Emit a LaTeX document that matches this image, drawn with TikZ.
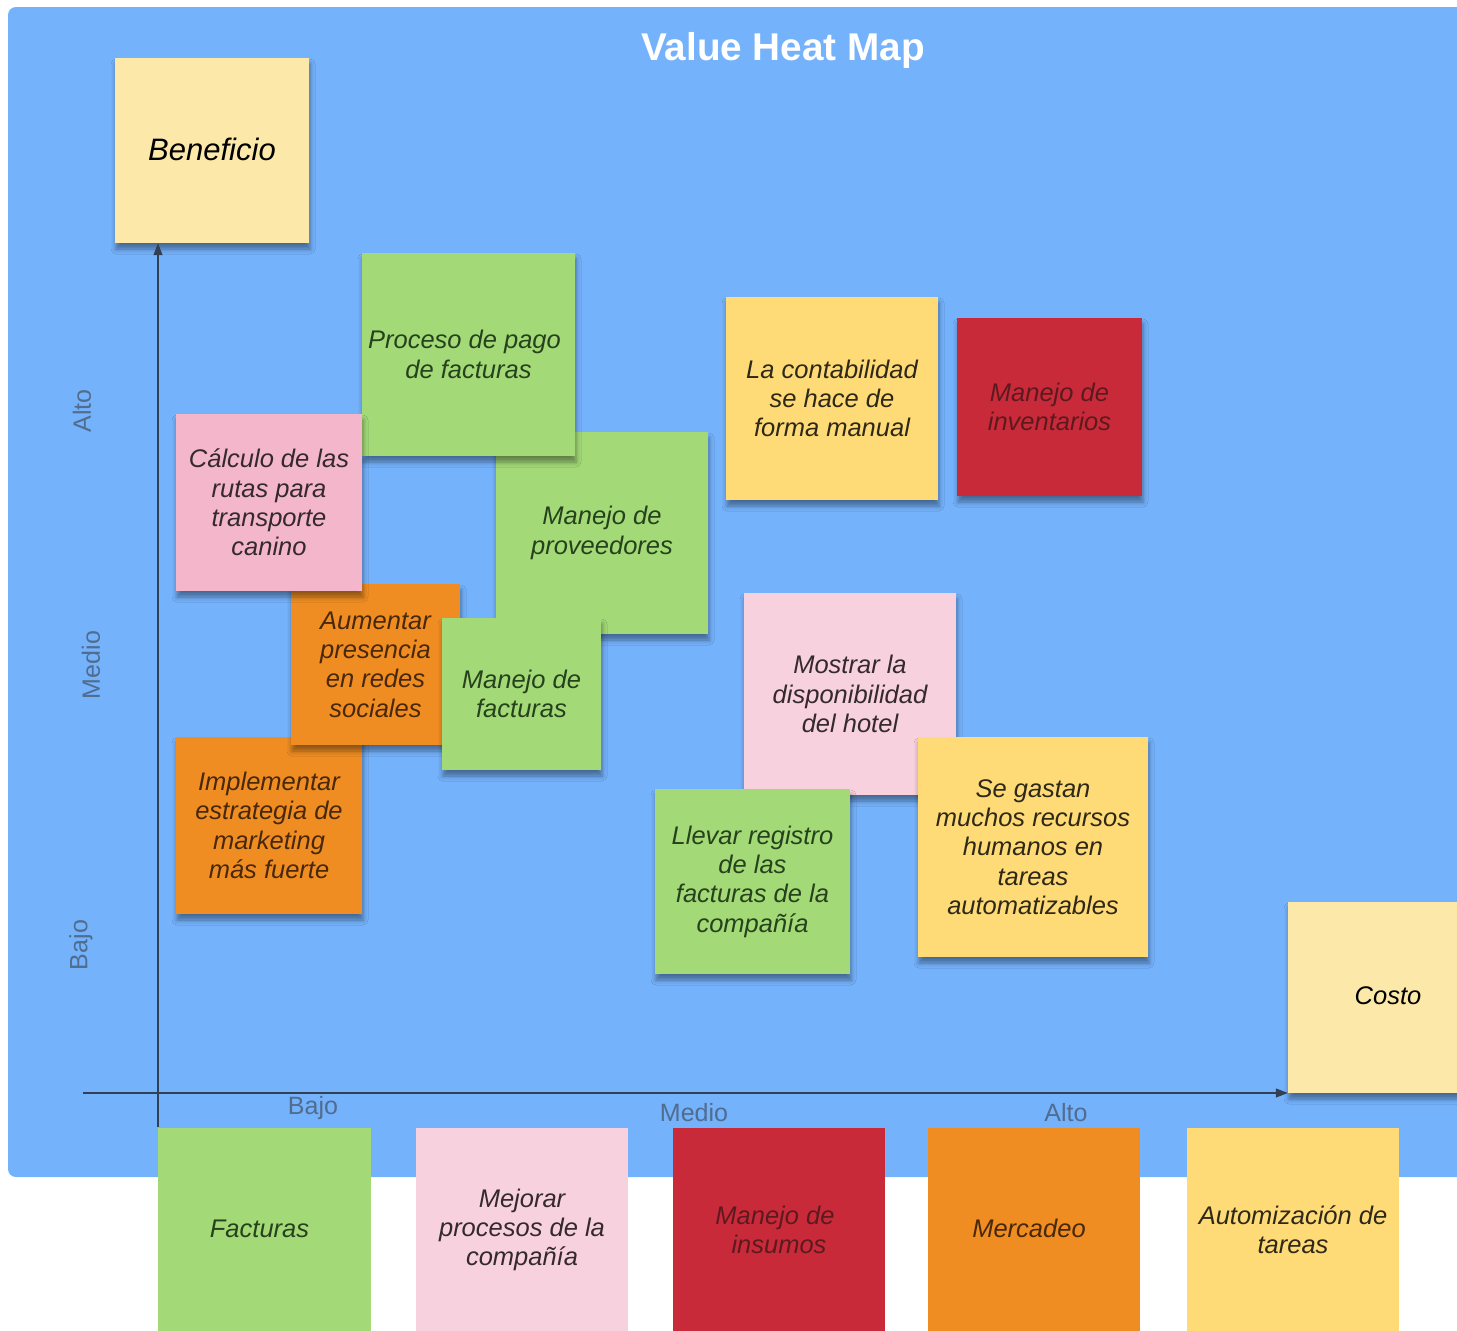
\documentclass[tikz,border=0pt]{standalone}
\usepackage{fontspec}
\setmainfont{Liberation Sans}
\usetikzlibrary{shadows.blur,arrows.meta}

% palette
\definecolor{panel}{RGB}{117,178,252}
\definecolor{paleyel}{RGB}{252,232,168}
\definecolor{notegreen}{RGB}{163,217,119}
\definecolor{notepink}{RGB}{243,182,203}
\definecolor{notelpink}{RGB}{248,209,222}
\definecolor{noteorange}{RGB}{240,141,34}
\definecolor{noteyellow}{RGB}{254,219,118}
\definecolor{notered}{RGB}{201,42,57}
\definecolor{txtgreen}{RGB}{38,66,28}
\definecolor{txtorange}{RGB}{72,40,10}
\definecolor{txtred}{RGB}{92,26,32}
\definecolor{txtpink}{RGB}{52,42,46}
\definecolor{txtyellow}{RGB}{46,40,24}
\definecolor{axisline}{RGB}{50,64,84}
\definecolor{axislabel}{RGB}{80,108,142}

\newcommand\notefont{\fontsize{25.5}{29.3}\selectfont\itshape}

\tikzset{
  plainnote/.style={rectangle, inner sep=0pt, align=center, font=\notefont},
  note/.style={plainnote,
    blur shadow={shadow xshift=1pt, shadow yshift=-6pt,
                 shadow blur radius=5pt, shadow opacity=40}},
  greennote/.style={note, fill=notegreen, text=txtgreen},
  pinknote/.style={note, fill=notepink, text=txtpink},
  lpinknote/.style={note, fill=notelpink, text=txtpink},
  orangenote/.style={note, fill=noteorange, text=txtorange},
  yellownote/.style={note, fill=noteyellow, text=txtyellow},
  rednote/.style={note, fill=notered, text=txtred},
  axisnote/.style={note, fill=paleyel, text=black},
  catnote/.style={plainnote, minimum width=212pt, minimum height=204pt},
  axis/.style={draw=axisline, line width=1.2pt,
    -{Triangle[length=12pt,width=9pt]}},
  levellabel/.style={text=axislabel, font=\fontsize{25}{28}\selectfont,
    inner sep=0pt},
}

\begin{document}
\begin{tikzpicture}[x=1pt,y=-1pt]
\useasboundingbox (0,0) rectangle (1457,1331);
\clip (0,0) rectangle (1457,1331);
\fill[white] (0,0) rectangle (1457,1331);

% board
\fill[panel, rounded corners=8pt] (8,7) rectangle (1500,1177);
\node[text=white, font=\fontsize{38.7}{42}\selectfont\bfseries, inner sep=0pt]
  (title) at (783,50) {Value Heat Map};

% level labels on the vertical scale
\node[levellabel, rotate=90] (yalto)  at (82,411) {Alto};
\node[levellabel, rotate=90] (ymedio) at (91,665) {Medio};
\node[levellabel, rotate=90] (ybajo)  at (81,945) {Bajo};
% level labels on the horizontal scale
\node[levellabel] (xbajo)  at (313,1108) {Bajo};
\node[levellabel] (xmedio) at (694,1113) {Medio};
\node[levellabel] (xalto)  at (1066,1113) {Alto};

% axis title notes
\node[axisnote, minimum width=194pt, minimum height=185pt,
      font=\fontsize{31}{35}\selectfont\itshape] (bene) at (212,150.5) {\raisebox{3pt}{Beneficio}};

% sticky notes on the map
\node[greennote, minimum width=212pt, minimum height=202pt] (proveedores) at (602,533) {Manejo de\\proveedores};
\node[greennote, minimum width=213pt, minimum height=203pt] (proceso) at (468.5,354.5) {Proceso de pago\hspace*{8pt}\\de facturas};
\node[orangenote, minimum width=186pt, minimum height=177pt] (implementar) at (269,825.5) {Implementar\\estrategia de\\marketing\\más fuerte};
\node[orangenote, minimum width=169pt, minimum height=161pt] (aumentar) at (375.5,664.5) {Aumentar\\presencia\\en redes\\sociales};
\node[pinknote, minimum width=186pt, minimum height=177pt] (calculo) at (269,502.5) {Cálculo de las\\rutas para\\transporte\\canino};
\node[greennote, minimum width=159pt, minimum height=152pt] (mfacturas) at (521.5,694) {Manejo de\\facturas};
\node[yellownote, minimum width=212pt, minimum height=203pt] (contabilidad) at (832,398.5) {La contabilidad\\se hace de\\forma manual};
\node[rednote, minimum width=185pt, minimum height=178pt] (inventarios) at (1049.5,407) {Manejo de\\inventarios};
\node[lpinknote, minimum width=212pt, minimum height=202pt] (mostrar) at (850,694) {Mostrar la\\disponibilidad\\del hotel};
\node[greennote, minimum width=195pt, minimum height=185pt] (llevar) at (752.5,881.5) {Llevar registro\\de las\\facturas de la\\compañía};
\node[yellownote, minimum width=230pt, minimum height=220pt] (gastan) at (1033,847) {Se gastan\\muchos recursos\\humanos en\\tareas\\automatizables};

\node[axisnote, minimum width=200pt, minimum height=191pt] (costo) at (1388,997.5) {\raisebox{3pt}{Costo}};

% category notes along the bottom
\node[catnote, minimum width=213pt, fill=notegreen, text=txtgreen] (facturas) at (264.5,1230) {\raisebox{3pt}{Facturas}\hspace*{10pt}};
\node[catnote, fill=notelpink, text=txtpink] (mejorar) at (522,1230) {Mejorar\\procesos de la\\compañía};
\node[catnote, fill=notered, text=txtred] (insumos) at (779,1230) {Manejo de\hspace*{8pt}\\insumos};
\node[catnote, fill=noteorange, text=txtorange] (mercadeo) at (1034,1230) {\raisebox{3pt}{Mercadeo}\hspace*{10pt}};
\node[catnote, fill=noteyellow, text=txtyellow] (automizacion) at (1293,1230) {Automización de\\tareas};

% axes
\coordinate (yfoot) at (158,1127);
\coordinate (xfoot) at (83,1093);
\draw[axis] (yfoot) -- (yfoot |- bene.south);
\draw[axis] (xfoot) -- (xfoot -| costo.west);
\end{tikzpicture}
\end{document}
